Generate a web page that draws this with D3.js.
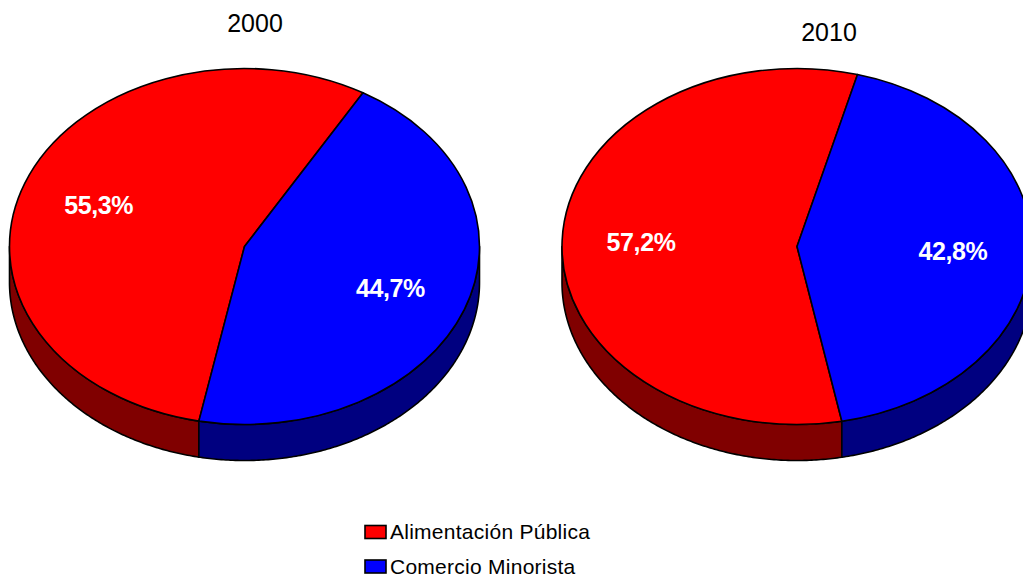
<!DOCTYPE html>
<html>
<head>
<meta charset="utf-8">
<script src="https://cdn.jsdelivr.net/npm/d3@7"></script>
<style>
    html, body { margin: 0; padding: 0; background: #fff; overflow: hidden; }
    text { font-family: "Liberation Sans", Arial, sans-serif; }
</style>
</head>
<body>
<div id="chart"></div>
<script>
var categories = ["Alimentación Pública", "Comercio Minorista"];
var years = ["2000", "2010"];
var values2000 = [55.3, 44.7];
var values2010 = [57.2, 42.8];
var labels2000 = ["55,3%", "44,7%"];
var labels2010 = ["57,2%", "42,8%"];
var topColors = ["#ff0000", "#0000ff"];
var sideColors = ["#800000", "#000080"];

var width = 1023, height = 578;
var rx = 235, ry = 178, depth = 36;
var toRad = Math.PI / 180;

var svg = d3.select("#chart").append("svg")
    .attr("width", width)
    .attr("height", height)
    .style("display", "block");

function drawPie(cx, cy, values, labels, startDeg) {
    var g = svg.append("g").attr("transform", "translate(" + cx + "," + cy + ")");

    var slices = d3.pie().sort(null)
        .startAngle(startDeg * toRad)
        .endAngle((startDeg + 360) * toRad)(values);

    var x = d3.scaleLinear().domain([-1, 1]).range([-rx, rx]);
    var y = d3.scaleLinear().domain([-1, 1]).range([ry, -ry]);

    // side wall, only the part of each slice facing the viewer
    var line = d3.line().curve(d3.curveLinear);
    slices.forEach(function (s) {
        [0, 2 * Math.PI].forEach(function (turn) {
            var a0 = Math.max(s.startAngle - turn, Math.PI / 2);
            var a1 = Math.min(s.endAngle - turn, Math.PI * 1.5);
            if (a1 <= a0) return;
            var angles = d3.range(a0, a1, 0.01).concat([a1]);
            var top = angles.map(function (a) { return [x(Math.sin(a)), y(Math.cos(a))]; });
            var bottom = top.map(function (p) { return [p[0], p[1] + depth]; }).reverse();
            g.append("path")
                .attr("d", line(top.concat(bottom)) + "Z")
                .attr("fill", sideColors[s.index])
                .attr("stroke", "#000")
                .attr("stroke-width", 1.6)
                .attr("stroke-linejoin", "round");
        });
    });

    // top face: d3.arc on a circle squashed to the ellipse
    var arc = d3.arc().innerRadius(0).outerRadius(rx);
    var face = g.append("g").attr("transform", "scale(1," + (ry / rx) + ")");
    face.selectAll("path")
        .data(slices)
        .enter().append("path")
        .attr("d", arc)
        .attr("fill", function (d) { return topColors[d.index]; })
        .attr("stroke", "#000")
        .attr("stroke-width", 1.6)
        .attr("stroke-linejoin", "round")
        .attr("vector-effect", "non-scaling-stroke");

    var labelArc = d3.arc().innerRadius(rx * 0.664).outerRadius(rx * 0.664);
    g.selectAll("text.pct")
        .data(slices)
        .enter().append("text")
        .attr("class", "pct")
        .attr("x", function (d) { return labelArc.centroid(d)[0]; })
        .attr("y", function (d) { return labelArc.centroid(d)[1] * ry / rx; })
        .attr("dy", "0.36em")
        .attr("text-anchor", "middle")
        .attr("fill", "#fff")
        .attr("font-size", 25)
        .attr("font-weight", "bold")
        .attr("letter-spacing", -0.4)
        .text(function (d, i) { return labels[i]; });
}

drawPie(244.5, 246.5, values2000, labels2000, 191.2);
drawPie(797, 246.5, values2010, labels2010, 169);

svg.selectAll("text.year")
    .data(years)
    .enter().append("text")
    .attr("class", "year")
    .attr("x", function (d, i) { return [255, 829][i]; })
    .attr("y", function (d, i) { return [32, 41][i]; })
    .attr("text-anchor", "middle")
    .attr("font-size", 25)
    .text(function (d) { return d; });

var legendY = d3.scalePoint().domain(categories).range([532, 566.5]);
var legend = svg.selectAll("g.legend")
    .data(categories)
    .enter().append("g")
    .attr("class", "legend")
    .attr("transform", function (d) { return "translate(365," + legendY(d) + ")"; });

legend.append("rect")
    .attr("x", 0)
    .attr("y", -6.5)
    .attr("width", 21)
    .attr("height", 13)
    .attr("fill", function (d, i) { return topColors[i]; })
    .attr("stroke", "#000")
    .attr("stroke-width", 1.6);

legend.append("text")
    .attr("x", 25)
    .attr("dy", 7)
    .attr("font-size", 21)
    .attr("letter-spacing", 0.26)
    .text(function (d) { return d; });
</script>
</body>
</html>
